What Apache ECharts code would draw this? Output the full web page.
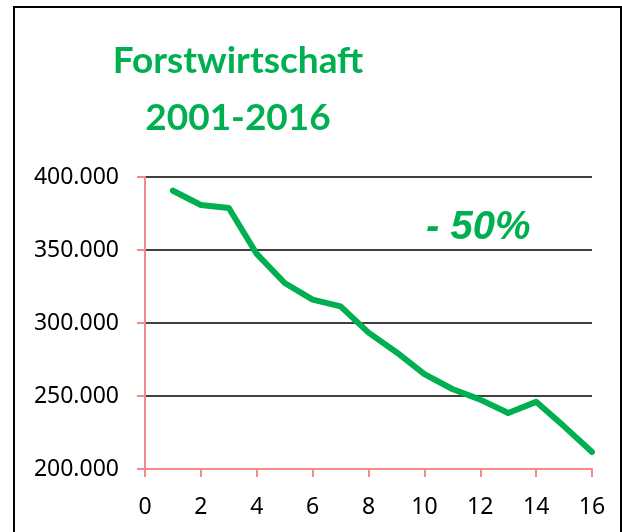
<!DOCTYPE html>
<html lang="de">
  <head>
    <meta charset="UTF-8" />
    <title>Forstwirtschaft 2001-2016</title>
    <script src="https://cdn.jsdelivr.net/npm/echarts@6/dist/echarts.min.js"></script>
  </head>
  <body style="margin: 0; background: #fff">
    <div id="container" style="width: 622px; height: 532px"></div>
    <script>
      // Jahre als Index 1..16 (2001-2016)
      const xValues = [1, 2, 3, 4, 5, 6, 7, 8, 9, 10, 11, 12, 13, 14, 15, 16];
      const yValues = [
        390600, 380800, 378800, 347300, 327400, 316000, 311400, 293400,
        280000, 265000, 254800, 247500, 238400, 246000, 229200, 211600
      ];
      const titleLines = ["Forstwirtschaft", "2001-2016"];
      const note = "- 50%";

      const green = "#00B050";
      const axisPink = "#F58A8A";

      let myChart = echarts.init(document.getElementById("container"));

      let option = {
        backgroundColor: "#fff",
        animation: false,
        graphic: [
          {
            type: "rect",
            shape: { x: 14, y: 7, width: 607, height: 540 },
            style: { fill: "none", stroke: "#000", lineWidth: 2 },
            silent: true
          }
        ],
        title: [
          {
            text: titleLines.join("\n"),
            left: 233,
            top: 28,
            textAlign: "center",
            textStyle: {
              color: green,
              fontFamily: "Lato",
              fontWeight: "bold",
              fontSize: 37,
              lineHeight: 57
            }
          },
          {
            text: note,
            left: 421,
            top: 203,
            textStyle: {
              color: green,
              fontFamily: "Liberation Sans",
              fontStyle: "italic",
              fontWeight: "bold",
              fontSize: 40
            }
          }
        ],
        grid: { left: 145, right: 30, top: 177, bottom: 63 },
        xAxis: {
          type: "value",
          min: 0,
          max: 16,
          interval: 2,
          axisLine: { lineStyle: { color: axisPink, width: 2 } },
          axisTick: { length: 8, lineStyle: { color: axisPink, width: 2 } },
          splitLine: { show: false },
          axisLabel: {
            margin: 27,
            color: "#000",
            fontFamily: "Noto Sans",
            fontSize: 23
          }
        },
        yAxis: {
          type: "value",
          min: 200000,
          max: 400000,
          interval: 50000,
          axisLine: { show: true, lineStyle: { color: axisPink, width: 2 } },
          axisTick: { show: true, length: 8, lineStyle: { color: axisPink, width: 2 } },
          splitLine: { lineStyle: { color: "#000", width: 1.6 } },
          axisLabel: {
            margin: 26,
            color: "#000",
            fontFamily: "Noto Sans",
            fontSize: 23,
            formatter: function (v) {
              return (v / 1000).toFixed(0) + ".000";
            }
          }
        },
        series: [
          {
            type: "line",
            data: xValues.map((x, i) => [x, yValues[i]]),
            showSymbol: false,
            symbol: "none",
            lineStyle: { color: green, width: 6, cap: "round", join: "round" }
          }
        ]
      };

      myChart.setOption(option);
    </script>
  </body>
</html>
